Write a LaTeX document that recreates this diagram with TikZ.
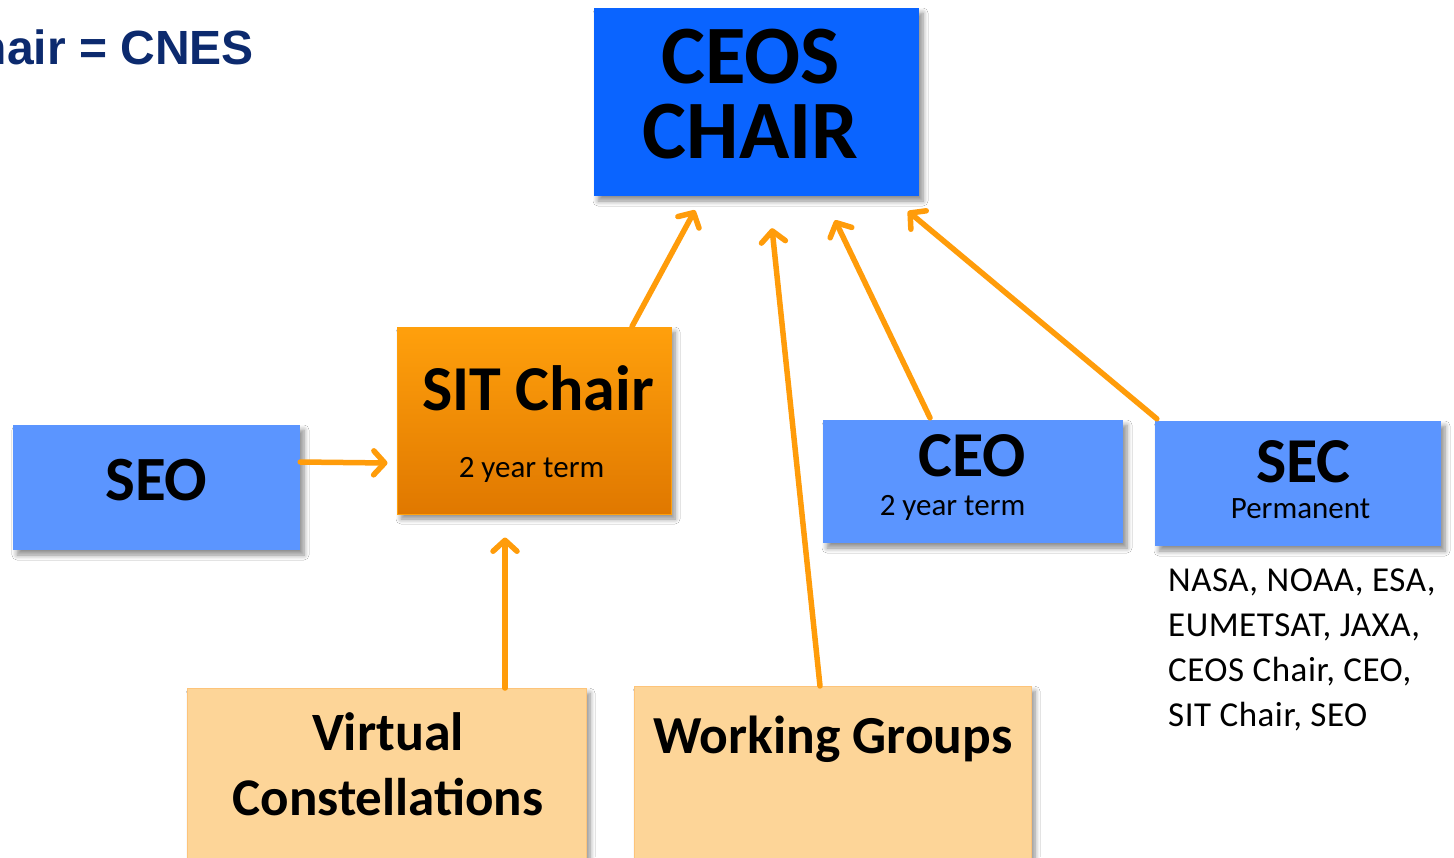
\documentclass[tikz,border=0pt]{standalone}
\usepackage{fontspec}
\setmainfont{Carlito}
\newfontfamily\arialf{Liberation Sans}
\usetikzlibrary{arrows.meta,shadows.blur}
\definecolor{ceosblue}{HTML}{0A64FF}
\definecolor{lightblue}{HTML}{5B95FF}
\definecolor{arrorange}{HTML}{FF9C0A}
\definecolor{sittop}{HTML}{FFA00C}
\definecolor{sitbot}{HTML}{E07800}
\definecolor{peach}{HTML}{FDD598}
\definecolor{navy}{HTML}{0C2A6E}
\tikzset{
  boxshadow/.style={blur shadow={shadow xshift=4pt,shadow yshift=-5pt,shadow blur steps=6,shadow opacity=45,shadow blur radius=5pt}},
  bluebox/.style={fill=lightblue,boxshadow,inner sep=0pt},
  txt/.style={anchor=base,inner sep=0pt},
  arr/.style={draw=arrorange,line width=5.5pt,line cap=round,-{Straight Barb[length=11pt,width=24pt,round]}},
}
\begin{document}
\begin{tikzpicture}[x=1pt,y=-1pt]
\useasboundingbox (0,0) rectangle (1454,857);
\clip (0,0) rectangle (1454,857);
\fill[white] (0,0) rectangle (1454,857);

\node[anchor=base east,text=navy,font=\arialf\bfseries\fontsize{48}{52}\selectfont,inner sep=0pt] (title) at (254,64) {hair = CNES};

% boxes
\node[fill=ceosblue,boxshadow,minimum width=325pt,minimum height=188pt,inner sep=0pt] (ceos) at (756.5,102) {};
\node[top color=sittop,bottom color=sitbot,draw=sittop,line width=1pt,boxshadow,minimum width=274pt,minimum height=187pt,inner sep=0pt] (sit) at (534,420.5) {};
\node[bluebox,minimum width=287pt,minimum height=125pt] (seo) at (156.5,487.5) {};
\node[bluebox,minimum width=300pt,minimum height=123pt] (ceo) at (973,481.5) {};
\node[bluebox,minimum width=286pt,minimum height=125pt] (sec) at (1298,483.5) {};
\node[fill=peach,draw=peach!80!orange,boxshadow,minimum width=399pt,minimum height=200pt,anchor=north,inner sep=0pt] (vc) at (386.5,688) {};
\node[fill=peach,draw=peach!80!orange,boxshadow,minimum width=397pt,minimum height=200pt,anchor=north,inner sep=0pt] (wg) at (832.5,686) {};

% texts
\node[txt,font=\bfseries\fontsize{83}{83}\selectfont] (ceost1) at (751,83) {CEOS};
\node[txt,font=\bfseries\fontsize{83}{83}\selectfont] (ceost2) at (750.5,158) {CHAIR};

\node[txt,font=\bfseries\fontsize{64}{64}\selectfont] (sitt1) at (538,410) {SIT Chair};
\node[txt,font=\fontsize{31}{31}\selectfont] (sitt2) at (531.5,477) {2 year term};

\node[txt,font=\bfseries\fontsize{63}{63}\selectfont] (seot) at (156.5,500) {SEO};

\node[txt,font=\bfseries\fontsize{64}{64}\selectfont] (ceot1) at (972,476) {CEO};
\node[txt,font=\fontsize{31}{31}\selectfont] (ceot2) at (952.5,515) {2 year term};

\node[txt,font=\bfseries\fontsize{64}{64}\selectfont] (sect1) at (1303.5,482) {SEC};
\node[txt,font=\fontsize{31}{31}\selectfont] (sect2) at (1300.5,518) {Permanent};

\node[anchor=north west,inner sep=0pt,align=left,font=\fontsize{35}{45}\selectfont\addfontfeature{LetterSpace=1.5}] (members) at (1168,569)
  {NASA, NOAA, ESA,\\EUMETSAT, JAXA,\\CEOS Chair, CEO,\\SIT Chair, SEO};

\node[txt,font=\bfseries\fontsize{54}{54}\selectfont] (vct1) at (388,750) {Virtual};
\node[txt,font=\bfseries\fontsize{53}{53}\selectfont] (vct2) at (388,815) {Constellations};

\node[txt,font=\bfseries\fontsize{53.5}{54}\selectfont] (wgt) at (833,753) {Working Groups};

% connectors
\draw[arr] ([xshift=98pt]sit.north) -- ([xshift=-61.5pt,yshift=-14pt]ceos.south);
\draw[arr] ([xshift=-12.5pt]wg.north) -- ([xshift=15.5pt,yshift=-32pt]ceos.south);
\draw[arr] ([xshift=-43pt,yshift=2pt]ceo.north) -- ([xshift=78.5pt,yshift=-24pt]ceos.south);
\draw[arr] ([xshift=2pt,yshift=2pt]sec.north west) -- ([xshift=151.5pt,yshift=-15pt]ceos.south);
\draw[arr] ([yshift=25.5pt]seo.east) -- ([xshift=-9pt,yshift=-42.5pt]sit.west);
\draw[arr] ([xshift=118.5pt]vc.north) -- ([xshift=-29pt,yshift=-23pt]sit.south);
\end{tikzpicture}
\end{document}
